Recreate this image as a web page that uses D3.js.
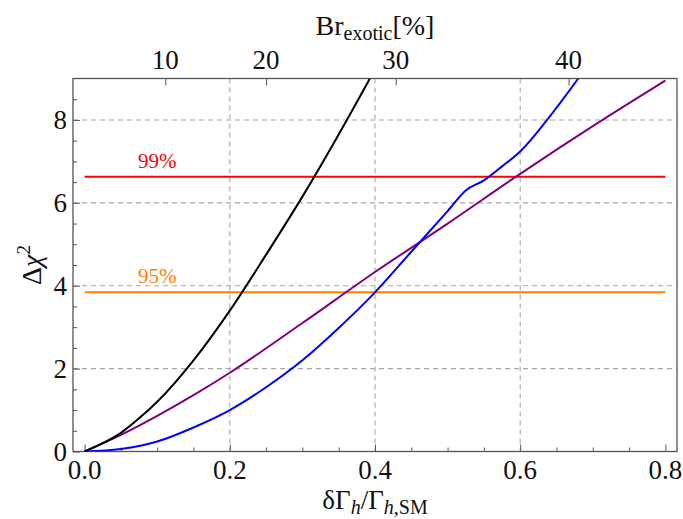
<!DOCTYPE html>
<html>
<head>
<meta charset="utf-8">
<script src="https://cdn.jsdelivr.net/npm/d3@7"></script>
<style>
  body { margin: 0; background: #fff; }
  svg { display: block; font-family: "Liberation Serif", "DejaVu Serif", serif; }
</style>
</head>
<body>
<div id="chart"></div>
<script>
// axis ticks
const xTicks = [0, 0.2, 0.4, 0.6, 0.8]
const xMinor = [0.05, 0.1, 0.15, 0.25, 0.3, 0.35, 0.45, 0.5, 0.55, 0.65, 0.7, 0.75]
const yTicks = [0, 2, 4, 6, 8]
const yMinor = [0.5, 1, 1.5, 2.5, 3, 3.5, 4.5, 5, 5.5, 6.5, 7, 7.5, 8.5]
const brTicks = [10, 20, 30, 40]
const gridX = [0.2, 0.4, 0.6]
const gridY = [2, 4, 6, 8]

// curves
const blackX = [0, 0.025, 0.05, 0.075, 0.1, 0.15, 0.2, 0.25, 0.3, 0.35, 0.393]
const blackY = [0, 0.2, 0.45, 0.8, 1.2, 2.2, 3.4, 4.75, 6.15, 7.65, 9.0]
const purpleX = [0, 0.05, 0.1, 0.15, 0.2, 0.3, 0.4, 0.5, 0.6, 0.7, 0.8]
const purpleY = [0, 0.4, 0.86, 1.36, 1.9, 3.1, 4.33, 5.5, 6.7, 7.85, 8.95]
const blueX = [0, 0.05, 0.1, 0.15, 0.2, 0.25, 0.3, 0.35, 0.4, 0.45, 0.5, 0.525, 0.55, 0.575, 0.6, 0.637, 0.68]
const blueY = [0, 0.06, 0.24, 0.58, 1.0, 1.55, 2.2, 2.98, 3.84, 4.82, 5.8, 6.3, 6.54, 6.88, 7.24, 8.0, 9.0]

// confidence levels
const clLabels = ['95%', '99%']
const clValues = [3.84, 6.63]
const clColors = ['#ff8000', '#ff0000']

const W = 683, H = 519
const margin = { top: 78.5, right: 6, bottom: 67.5, left: 73 }
const iw = W - margin.left - margin.right
const ih = H - margin.top - margin.bottom
const serif = '"Liberation Serif", "DejaVu Serif", serif'

const x = d3.scaleLinear().domain([-0.016, 0.816]).range([0, iw])
const y = d3.scaleLinear().domain([0, 9]).range([ih, 0])
const brToX = b => x(b / (100 - b))

const svg = d3.select('#chart').append('svg').attr('width', W).attr('height', H)
const g = svg.append('g').attr('transform', `translate(${margin.left},${margin.top})`)

g.append('clipPath').attr('id', 'clip')
  .append('rect').attr('width', iw).attr('height', ih)

// grid
const grid = g.append('g').attr('stroke', '#a6a6a6').attr('stroke-dasharray', '5,4').attr('stroke-width', 1.1)
grid.selectAll('.gx').data(gridX).enter().append('line')
  .attr('x1', d => x(d)).attr('x2', d => x(d)).attr('y1', 0).attr('y2', ih)
grid.selectAll('.gy').data(gridY).enter().append('line')
  .attr('y1', d => y(d)).attr('y2', d => y(d)).attr('x1', 0).attr('x2', iw)

// tick marks (labels drawn separately below)
g.append('g').attr('transform', `translate(0,${ih})`)
  .call(d3.axisBottom(x).tickValues(xTicks).tickFormat('').tickSizeInner(-7).tickSizeOuter(0))
g.append('g').attr('transform', `translate(0,${ih})`)
  .call(d3.axisBottom(x).tickValues(xMinor).tickFormat('').tickSizeInner(-4).tickSizeOuter(0))
g.append('g')
  .call(d3.axisLeft(y).tickValues(yTicks).tickFormat('').tickSizeInner(-7).tickSizeOuter(0))
g.append('g').call(d3.axisLeft(y).tickValues(yMinor).tickFormat('').tickSizeInner(-4).tickSizeOuter(0))
const topScale = d3.scaleLinear().domain([0, iw]).range([0, iw])
g.append('g').call(
  d3.axisTop(topScale).tickValues(brTicks.map(brToX)).tickFormat('').tickSizeInner(-7).tickSizeOuter(0)
)
g.selectAll('.domain').remove()
g.selectAll('.tick line').attr('stroke', '#555').attr('stroke-width', 1)
g.selectAll('.tick text').remove()

// tick labels
const labels = g.append('g').attr('font-family', serif).attr('font-size', 27).attr('fill', '#111')
labels.selectAll('.xl').data(xTicks).enter().append('text')
  .attr('x', d => x(d)).attr('y', ih + 27).attr('text-anchor', 'middle')
  .text(d3.format('.1f'))
labels.selectAll('.yl').data(yTicks).enter().append('text')
  .attr('x', -6).attr('y', d => y(d) + 9).attr('text-anchor', 'end')
  .text(d3.format('d'))
labels.selectAll('.tl').data(brTicks).enter().append('text')
  .attr('x', d => brToX(d)).attr('y', -10).attr('text-anchor', 'middle')
  .text(d => d)

// frame
g.append('rect').attr('width', iw).attr('height', ih)
  .attr('fill', 'none').attr('stroke', '#555').attr('stroke-width', 1.3)

// curves
const plot = g.append('g').attr('clip-path', 'url(#clip)')
const line = d3.line().x(d => x(d[0])).y(d => y(d[1])).curve(d3.curveMonotoneX)

plot.selectAll('.cl').data(clValues).enter().append('line')
  .attr('x1', x(0)).attr('x2', x(0.8))
  .attr('y1', d => y(d)).attr('y2', d => y(d))
  .attr('stroke', (d, i) => clColors[i]).attr('stroke-width', 2)

const curves = [
  { xs: purpleX, ys: purpleY, color: '#800080' },
  { xs: blueX, ys: blueY, color: '#0000ff' },
  { xs: blackX, ys: blackY, color: '#000000' }
]
plot.selectAll('.curve').data(curves).enter().append('path')
  .attr('d', c => line(c.xs.map((v, i) => [v, c.ys[i]])))
  .attr('fill', 'none').attr('stroke', c => c.color).attr('stroke-width', 2)

// CL labels
g.selectAll('.cltext').data(clValues).enter().append('text')
  .attr('x', x(0.1)).attr('y', d => y(d) - 9)
  .attr('text-anchor', 'middle')
  .attr('font-family', serif).attr('font-size', 21)
  .attr('fill', (d, i) => clColors[i])
  .text((d, i) => clLabels[i])

// axis titles
const xt = svg.append('text').attr('x', margin.left + x(0.4)).attr('y', 509)
  .attr('text-anchor', 'middle').attr('font-family', serif).attr('font-size', 27).attr('fill', '#111')
xt.append('tspan').text('δΓ')
xt.append('tspan').attr('font-style', 'italic').attr('font-size', 20).attr('dy', 5).text('h')
xt.append('tspan').attr('dy', -5).text('/Γ')
xt.append('tspan').attr('font-size', 20).attr('dy', 5).html('<tspan font-style="italic">h</tspan>,SM')

const tt = svg.append('text').attr('x', margin.left + x(0.4)).attr('y', 35)
  .attr('text-anchor', 'middle').attr('font-family', serif).attr('font-size', 28).attr('fill', '#111')
tt.append('tspan').text('Br')
tt.append('tspan').attr('font-size', 20).attr('dy', 5).text('exotic')
tt.append('tspan').attr('dy', -5).text('[%]')

const yt = svg.append('text').attr('transform', `translate(41,${margin.top + y(4.5)}) rotate(-90)`)
  .attr('text-anchor', 'middle').attr('font-family', serif).attr('font-size', 28).attr('fill', '#111')
yt.append('tspan').text('Δ')
yt.append('tspan').attr('font-style', 'italic').text('χ')
yt.append('tspan').attr('font-size', 19).attr('dy', -11).text('2')
</script>
</body>
</html>
